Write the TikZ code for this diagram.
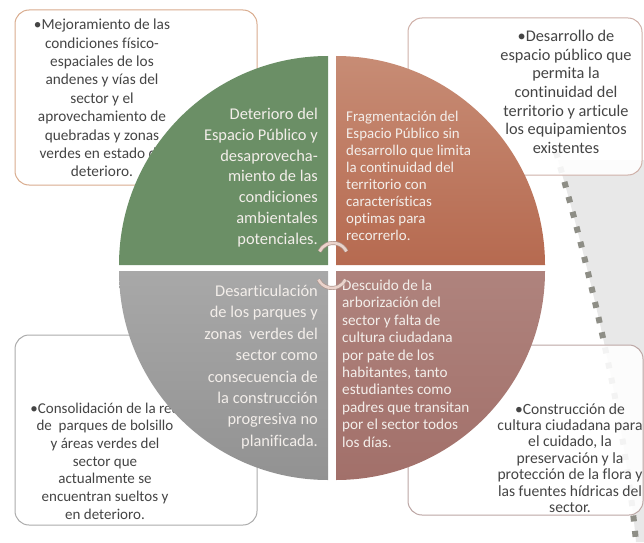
\documentclass[tikz,border=0pt]{standalone}
\usepackage{fontspec}
\setmainfont{Carlito}[Ligatures=NoCommon]
\definecolor{qgreen}{HTML}{6B8F66}
\definecolor{qredtop}{HTML}{C78C75}
\definecolor{qredbot}{HTML}{B66A50}
\definecolor{qgraytop}{HTML}{A8A8A8}
\definecolor{qgraybot}{HTML}{929292}
\definecolor{qmautop}{HTML}{AF837D}
\definecolor{qmaubot}{HTML}{A2706A}
\definecolor{qtext}{HTML}{F3EEEA}
\definecolor{btext}{HTML}{454545}
\definecolor{bdtl}{HTML}{D9AC8E}
\definecolor{bdtr}{HTML}{CFB0A8}
\definecolor{bdbl}{HTML}{ABABAB}
\definecolor{bdbr}{HTML}{BCA6A4}
\definecolor{dashc}{HTML}{8E8E86}
\definecolor{bgshade}{HTML}{E8E8E8}
\definecolor{arcc}{HTML}{EAD3CB}
\definecolor{arcd}{HTML}{B09890}
\begin{document}
\begin{tikzpicture}[x=1pt,y=1pt,
  box/.style={draw, line width=1pt, rounded corners=14pt, fill=white, fill opacity=0.9, inner sep=0pt},
  btxt/.style={align=center, inner sep=0pt, text=btext},
  qtxt/.style={inner sep=0pt, text=qtext}]
\useasboundingbox (0,0) rectangle (644,542);
% background decorative region
\fill[bgshade] (558,382) .. controls (590,272) and (625,122) .. (636,0) -- (644,0) -- (644,382) -- cycle;
\draw[dashc, line width=6pt, dash pattern=on 6pt off 9.5pt] (556,390) .. controls (590,272) and (625,122) .. (636,0);
% outer boxes
\node[box, draw=bdtl, minimum width=242pt, minimum height=175pt] (btl) at (136,444.5) {};
\node[box, draw=bdtr, minimum width=234pt, minimum height=157pt] (btr) at (525,445.5) {};
\node[box, draw=bdbl, minimum width=242pt, minimum height=190pt] (bbl) at (136,112) {};
\node[box, draw=bdbr, minimum width=235pt, minimum height=170pt] (bbr) at (525.5,112) {};
% box texts
\node[btxt, font=\fontsize{15.3}{18.4}\selectfont] (ttl) at (102,444) {•Mejoramiento de las\\condiciones físico-\\espaciales de los\\andenes y vías del\\sector y el\\aprovechamiento de\\quebradas y zonas\\verdes en estado de\\deterioro.};
\node[btxt, font=\fontsize{16.3}{18.6}\selectfont] (ttr) at (566,450) {•Desarrollo de\\espacio público que\\permita la\\continuidad del\\territorio y articule\\los equipamientos\\existentes};
\node[btxt, font=\fontsize{15}{17.7}\selectfont] (tbl) at (105,81) {•Consolidación de la red\\de\ \ parques de bolsillo\\y áreas verdes del\\sector que\\actualmente se\\encuentran sueltos y\\en deterioro.};
\node[btxt, font=\fontsize{15.6}{16.4}\selectfont] (tbr) at (570,84) {•Construcción de\\cultura ciudadana para\\el cuidado, la\\preservación y la\\protección de la flora y\\las fuentes hídricas del\\sector.};
% quadrants
\fill[qgreen] (328,277) -- ++(-209,0) arc[start angle=180,end angle=90,radius=209] -- cycle;
\shade[top color=qredtop, bottom color=qredbot] (336,277) -- ++(0,209) arc[start angle=90,end angle=0,radius=209] -- cycle;
\shade[top color=qgraytop, bottom color=qgraybot] (328,271) -- ++(0,-209) arc[start angle=270,end angle=180,radius=209] -- cycle;
\shade[top color=qmautop, bottom color=qmaubot] (336,271) -- ++(209,0) arc[start angle=0,end angle=-90,radius=209] -- cycle;
% quadrant texts
\node[qtxt, align=right, anchor=east, font=\fontsize{16.4}{20.8}\selectfont] (qg) at (318,364.5) {Deterioro del\\Espacio Público y\\desaprovecha-\\miento de las\\condiciones\\ambientales\\potenciales.};
\node[qtxt, align=left, anchor=west, font=\fontsize{14.9}{16.9}\selectfont] (qr) at (346,366) {Fragmentación del\\Espacio Público sin\\desarrollo que limita\\la continuidad del\\territorio con\\características\\optimas para\\recorrerlo.};
\node[qtxt, align=right, anchor=east, font=\fontsize{16.4}{21.4}\selectfont] (qy) at (318,175) {Desarticulación\\de los parques y\\zonas\ \ verdes del\\sector como\\consecuencia de\\la construcción\\progresiva no\\planificada.};
\node[qtxt, align=left, anchor=west, font=\fontsize{15.2}{17.4}\selectfont] (qm) at (342,178.5) {Descuido de la\\arborización del\\sector y falta de\\cultura ciudadana\\por pate de los\\habitantes, tanto\\estudiantes como\\padres que transitan\\por el sector todos\\los días.};
% center arcs
\draw[arcd, line width=4pt] (333,284) ++(26:15) arc[start angle=26,end angle=154,radius=15];
\draw[arcc, line width=2.6pt] (333,284) ++(26:15) arc[start angle=26,end angle=154,radius=15];
\draw[arcd, line width=4pt] (332,269) ++(206:15) arc[start angle=206,end angle=334,radius=15];
\draw[arcc, line width=2.6pt] (332,269) ++(206:15) arc[start angle=206,end angle=334,radius=15];
\end{tikzpicture}
\end{document}
